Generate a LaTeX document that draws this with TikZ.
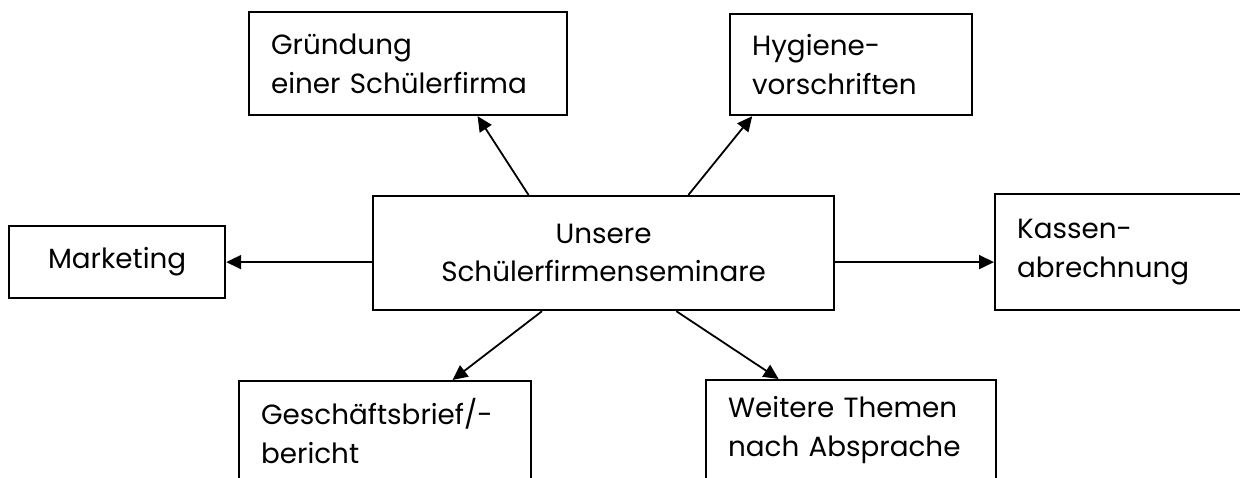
\documentclass[tikz,border=0pt]{standalone}
\usepackage{fontspec}
\setmainfont{Poppins}
\usetikzlibrary{arrows.meta,calc}

\begin{document}
\begin{tikzpicture}[x=1pt,y=-1pt,
    thema/.style={draw, line width=2.2pt, anchor=north west, align=left, inner xsep=22pt, inner ysep=0pt, font=\fontsize{27.8}{38.5}\selectfont},
    pfeil/.style={-{Triangle[length=15pt,width=14pt]}, line width=1.8pt}]
    \clip (0,0) rectangle (1240,477);

    % Mitte
    \node[thema, align=center, minimum width=461pt, minimum height=114pt] (seminar) at (372,195) {Unsere\\Schülerfirmenseminare};

    % Themen rundherum
    \node[thema, text width=274pt, minimum height=103pt] (gruendung) at (248,11) {Gründung\\einer Schülerfirma};
    \node[thema, text width=198pt, minimum height=101pt] (hygiene) at (729,13) {Hygiene-\\vorschriften};
    \node[thema, align=center, minimum width=216pt, minimum height=72pt] (marketing) at (8,225) {Marketing};
    \node[thema, text width=216pt, minimum height=116pt] (kasse) at (994,193) {Kassen-\\abrechnung};
    \node[thema, text width=248pt, minimum height=100pt] (brief) at (238,380) {Geschäftsbrief/-\\bericht};
    \node[thema, text width=246pt, minimum height=100pt] (weitere) at (705,379) {Weitere Themen\\nach Absprache};

    % Pfeile
    \draw[pfeil] ($(seminar.north west)!0.338!(seminar.north east)$) -- ($(gruendung.south west)!0.717!(gruendung.south east)$);
    \draw[pfeil] ($(seminar.north west)!0.683!(seminar.north east)$) -- ($(hygiene.south west)!0.095!(hygiene.south east)$);
    \draw[pfeil] (seminar.west |- marketing.east) -- (marketing.east);
    \draw[pfeil] (seminar.east |- marketing.east) -- (kasse.west |- marketing.east);
    \draw[pfeil] ($(seminar.south west)!0.367!(seminar.south east)$) -- ($(brief.north west)!0.729!(brief.north east)$);
    \draw[pfeil] ($(seminar.south west)!0.657!(seminar.south east)$) -- ($(weitere.north west)!0.252!(weitere.north east)$);
\end{tikzpicture}
\end{document}
